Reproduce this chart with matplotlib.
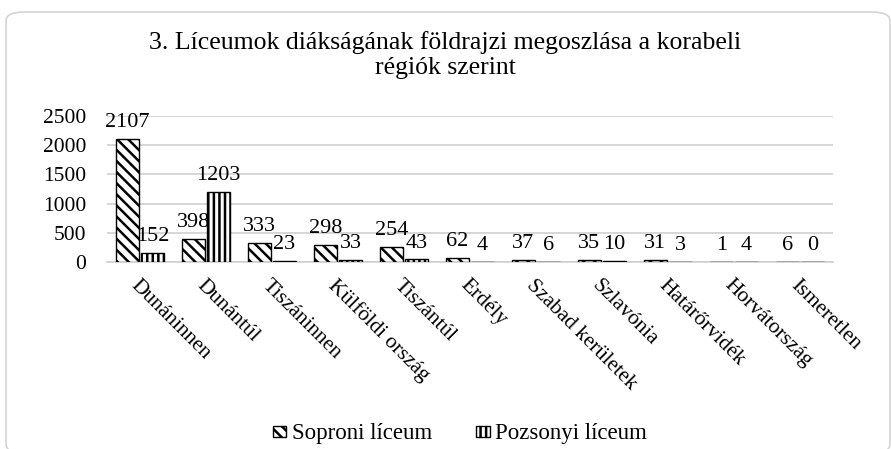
import numpy as np
import matplotlib
matplotlib.use("Agg")
import matplotlib.pyplot as plt
from matplotlib.patches import FancyBboxPatch

# adatok
regiok = ["Dunáninnen", "Dunántúl", "Tiszáninnen", "Külföldi ország", "Tiszántúl",
          "Erdély", "Szabad kerületek", "Szlavónia", "Határőrvidék", "Horvátország",
          "Ismeretlen"]
soproni = [2107, 398, 333, 298, 254, 62, 37, 35, 31, 1, 6]
pozsonyi = [152, 1203, 23, 33, 43, 4, 6, 10, 3, 4, 0]
y_ticks = [0, 500, 1000, 1500, 2000, 2500]
cim = "3. Líceumok diákságának földrajzi megoszlása a korabeli\nrégiók szerint"
sorozat_nevek = ["Soproni líceum", "Pozsonyi líceum"]

plt.rcParams["font.family"] = ["Liberation Serif", "DejaVu Serif"]
plt.rcParams["hatch.linewidth"] = 1.8

fig = plt.figure(figsize=(8.91, 4.49), dpi=100)
ax = fig.add_axes([107 / 891, 1 - 262 / 449, (833 - 107) / 891, (262 - 116) / 449])

# keret (jobb és alsó széle kilóg a képből)
keret = FancyBboxPatch((6 / 891, -4 / 449), 884 / 891, 441 / 449,
                       boxstyle="round,pad=0,rounding_size=0.02",
                       transform=fig.transFigure, fill=False,
                       edgecolor="#d4d4d4", linewidth=1.2, zorder=0)
fig.patches.append(keret)

x = np.arange(len(regiok))
w = 0.34
b1 = ax.bar(x - w / 2 - 0.02, soproni, w, color="white", edgecolor="black",
            hatch="\\\\\\", linewidth=1.0, label=sorozat_nevek[0], zorder=3)
b2 = ax.bar(x + w / 2 + 0.02, pozsonyi, w, color="white", edgecolor="black",
            hatch="|||", linewidth=1.0, label=sorozat_nevek[1], zorder=3)

for bars, vals in ((b1, soproni), (b2, pozsonyi)):
    for r, v in zip(bars, vals):
        ax.annotate(str(v), (r.get_x() + r.get_width() / 2, v),
                    xytext=(0, 5), textcoords="offset points",
                    ha="center", va="bottom", fontsize=16)

ax.set_xlim(-0.5, len(regiok) - 0.5)
ax.set_ylim(0, 2500)
ax.set_yticks(y_ticks)
ax.tick_params(axis="y", labelsize=15.5, length=0, pad=15)
ax.yaxis.grid(True, color="#d0d0d0", linewidth=1.2, zorder=0)
ax.set_axisbelow(True)
for s in ["top", "right", "left"]:
    ax.spines[s].set_visible(False)
ax.spines["bottom"].set_color("#d0d0d0")
ax.spines["bottom"].set_linewidth(1.2)

ax.set_xticks(x)
ax.set_xticklabels(regiok, rotation=-45, ha="left", va="top",
                   rotation_mode="anchor", fontsize=15.5)
ax.tick_params(axis="x", length=0, pad=10)

fig.text(0.5, 1 - 55 / 449, cim, ha="center", va="center", fontsize=18.5,
         linespacing=1.2)

fig.legend(loc="center", bbox_to_anchor=(460 / 891, 1 - 434 / 449), ncol=2,
           frameon=False, fontsize=16.5, handlelength=0.6, handleheight=0.35,
           handletextpad=0.25, columnspacing=1.9)

fig.savefig("out.png", dpi=100)
